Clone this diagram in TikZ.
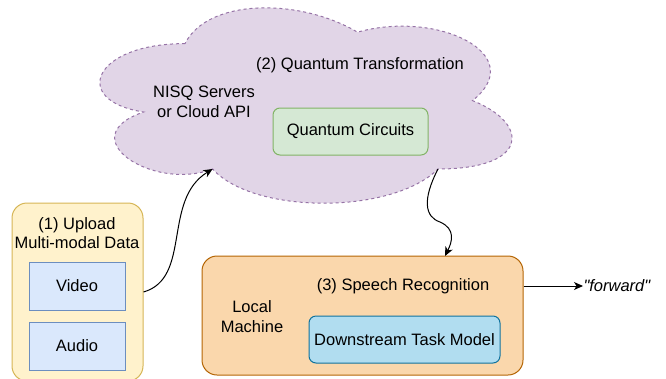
\documentclass[tikz,border=0pt]{standalone}
\usepackage{fontspec}
\setmainfont{Liberation Sans}
\newfontfamily\plainsans{Liberation Sans}
\usetikzlibrary{arrows.meta}
\definecolor{upfill}{HTML}{FFF2CC}\definecolor{updraw}{HTML}{D6B656}
\definecolor{bluefill}{HTML}{DAE8FC}\definecolor{bluedraw}{HTML}{6C8EBF}
\definecolor{cloudfill}{HTML}{E1D5E7}\definecolor{clouddraw}{HTML}{9673A6}
\definecolor{greenfill}{HTML}{D5E8D4}\definecolor{greendraw}{HTML}{82B366}
\definecolor{orfill}{HTML}{FAD7AC}\definecolor{ordraw}{HTML}{B46504}
\definecolor{dsfill}{HTML}{B1DDF0}\definecolor{dsdraw}{HTML}{10739E}
\begin{document}
\begin{tikzpicture}[x=1pt,y=-1pt,line width=1pt,
  every node/.style={font=\fontsize{16.5}{19.8}\selectfont, align=center, inner sep=0pt},
  conn/.style={draw=black, line width=1pt, -{Stealth[length=9pt,width=8pt,inset=2.5pt]}}]
\useasboundingbox (0,0) rectangle (666,378);
% upload container
\node[draw=updraw, fill=upfill, rounded corners=15pt, minimum width=131pt, minimum height=178pt] (upbox) at (77.5,292) {};
\node (up) at (77,233) {(1) Upload\\Multi-modal Data};
\node[draw=bluedraw, fill=bluefill, minimum width=96pt, minimum height=48pt] (video) at (77,286) {Video};
\node[draw=bluedraw, fill=bluefill, minimum width=96pt, minimum height=48pt] (audio) at (77,346) {Audio};
% cloud
\begin{scope}[shift={(70,-13.4)}, x=460pt, y=-228pt]
\path[draw=clouddraw, fill=cloudfill, dashed, dash pattern=on 3pt off 3pt]
  (0.25,0.25) .. controls (0.05,0.25) and (0,0.5) .. (0.16,0.55)
  .. controls (0,0.66) and (0.18,0.9) .. (0.31,0.8)
  .. controls (0.4,1) and (0.7,1) .. (0.8,0.8)
  .. controls (1,0.8) and (1,0.6) .. (0.875,0.5)
  .. controls (1,0.3) and (0.8,0.1) .. (0.625,0.2)
  .. controls (0.5,0.05) and (0.3,0.05) .. (0.25,0.25) -- cycle;
\coordinate (cin) at (0.31,0.8);
\coordinate (cout) at (0.8,0.8);
\end{scope}
\node (qt) at (360,65) {(2) Quantum Transformation};
\node (nisq) at (204,102) {NISQ Servers\\or Cloud API};
\node[draw=greendraw, fill=greenfill, rounded corners=7pt, minimum width=155pt, minimum height=47pt] (qc) at (350.5,131.5) {Quantum Circuits};
% local machine
\node[draw=ordraw, fill=orfill, rounded corners=15pt, minimum width=321pt, minimum height=119pt] (lmbox) at (362.5,315.5) {};
\node (sr) at (403,286) {(3) Speech Recognition};
\node (lm) at (252,316.5) {Local\\Machine};
\node[draw=dsdraw, fill=dsfill, rounded corners=7pt, minimum width=191pt, minimum height=47pt] (ds) at (404.5,339.5) {Downstream Task Model};
\coordinate (lmright) at (lmbox.east |- sr);
\coordinate (lmtop) at (445,256);
\node[anchor=west, font=\fontsize{16.5}{19.8}\selectfont\plainsans\itshape] (fw) at (583,286) {"forward"};
% connectors
\draw[conn] (upbox.east) .. controls (192,278) and (162,200) .. (cin);
\draw[conn] (cout) .. controls (422,200) and (425,217) .. (440,222) .. controls (456,229) and (452,242) .. (lmtop);
\draw[conn] (lmright) -- (fw.west);
\end{tikzpicture}
\end{document}
